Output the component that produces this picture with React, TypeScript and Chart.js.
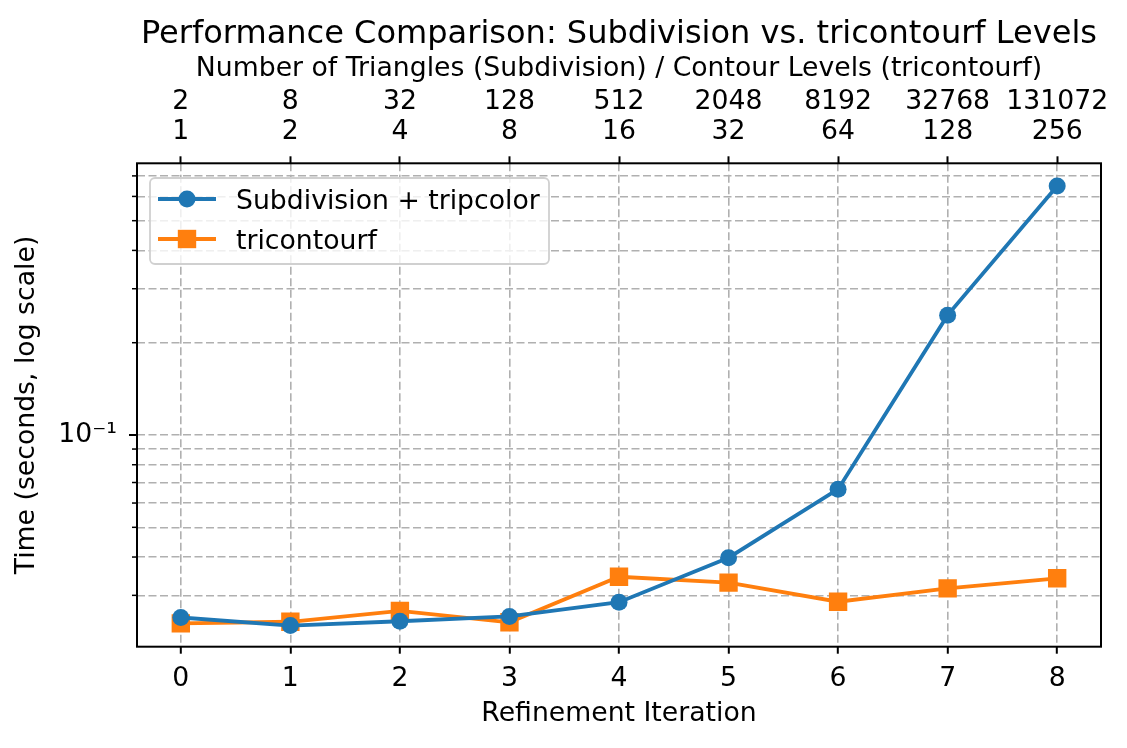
import React, { useEffect, useRef } from "react";
import { Chart, registerables } from "chart.js";

Chart.register(...registerables);

// ---- data ----
const iterations = [0, 1, 2, 3, 4, 5, 6, 7, 8];
const triangleCounts = ["2", "8", "32", "128", "512", "2048", "8192", "32768", "131072"];
const contourLevels = ["1", "2", "4", "8", "16", "32", "64", "128", "256"];
const subdivisionTimes = [0.0254, 0.0239, 0.0247, 0.0256, 0.0285, 0.0398, 0.0666, 0.246, 0.649];
const tricontourfTimes = [0.0243, 0.0246, 0.0267, 0.0245, 0.0345, 0.033, 0.0286, 0.0316, 0.0341];
const yGridValues = [0.03, 0.04, 0.05, 0.06, 0.07, 0.08, 0.09, 0.1, 0.2, 0.3, 0.4, 0.5, 0.6, 0.7];
const yMajorValues = [0.1];
const yMajorLabels = ["10⁻¹"];
const seriesNames = ["Subdivision + tripcolor", "tricontourf"];
const seriesColors = ["#1f77b4", "#ff7f0e"];
const chartTitle = "Performance Comparison: Subdivision vs. tricontourf Levels";
const topAxisTitle = "Number of Triangles (Subdivision) / Contour Levels (tricontourf)";
const bottomAxisTitle = "Refinement Iteration";
const yAxisTitle = "Time (seconds, log scale)";

const FONT = "'DejaVu Sans', 'Liberation Sans', sans-serif";
const FS = 26.7;
const GRID_COLOR = "#b0b0b0";
const DASH = [8, 3.5];

const isMajor = (v: number) => yMajorValues.some((m) => Math.abs(m - v) < 1e-9);

const decorPlugin = {
  id: "decor",
  afterDatasetsDraw(chart: any) {
    const ctx = chart.ctx as CanvasRenderingContext2D;
    const area = chart.chartArea;
    const yScale = chart.scales.y;
    ctx.save();
    // frame
    ctx.strokeStyle = "#000";
    ctx.lineWidth = 2;
    ctx.setLineDash([]);
    ctx.strokeRect(area.left, area.top, area.right - area.left, area.bottom - area.top);
    // y tick marks
    yGridValues.forEach((v) => {
      const py = yScale.getPixelForValue(v);
      const major = isMajor(v);
      ctx.lineWidth = major ? 2 : 1.5;
      ctx.beginPath();
      ctx.moveTo(area.left - (major ? 8 : 5), py);
      ctx.lineTo(area.left, py);
      ctx.stroke();
    });
    // title
    ctx.fillStyle = "#000";
    ctx.font = `${FS * 1.2}px ${FONT}`;
    ctx.textAlign = "center";
    ctx.textBaseline = "alphabetic";
    ctx.fillText(chartTitle, (area.left + area.right) / 2, 43);

    // legend
    const lx = 150, ly = 178, lw = 399, lh = 86, r = 5;
    ctx.beginPath();
    ctx.moveTo(lx + r, ly);
    ctx.lineTo(lx + lw - r, ly);
    ctx.arcTo(lx + lw, ly, lx + lw, ly + r, r);
    ctx.lineTo(lx + lw, ly + lh - r);
    ctx.arcTo(lx + lw, ly + lh, lx + lw - r, ly + lh, r);
    ctx.lineTo(lx + r, ly + lh);
    ctx.arcTo(lx, ly + lh, lx, ly + lh - r, r);
    ctx.lineTo(lx, ly + r);
    ctx.arcTo(lx, ly, lx + r, ly, r);
    ctx.closePath();
    ctx.fillStyle = "rgba(255,255,255,0.8)";
    ctx.fill();
    ctx.strokeStyle = "#d0d0d0";
    ctx.lineWidth = 1.8;
    ctx.stroke();

    chart.data.datasets.forEach((ds: any, i: number) => {
      const cy = 199 + i * 40;
      ctx.strokeStyle = ds.borderColor;
      ctx.lineWidth = ds.borderWidth;
      ctx.beginPath();
      ctx.moveTo(158, cy);
      ctx.lineTo(216, cy);
      ctx.stroke();
      ctx.fillStyle = ds.borderColor;
      if (ds.pointStyle === "rect") {
        const s = ds.pointRadius * Math.SQRT1_2;
        ctx.fillRect(187 - s, cy - s, 2 * s, 2 * s);
      } else {
        ctx.beginPath();
        ctx.arc(187, cy, ds.pointRadius, 0, Math.PI * 2);
        ctx.fill();
      }
      ctx.fillStyle = "#000";
      ctx.font = `${FS}px ${FONT}`;
      ctx.textAlign = "left";
      ctx.textBaseline = "alphabetic";
      ctx.fillText(ds.label, 236, cy + 9.7);
    });
    ctx.restore();
  },
};

export default function App() {
  const canvasRef = useRef<HTMLCanvasElement | null>(null);

  useEffect(() => {
    document.body.style.margin = "0";
    const canvas = canvasRef.current;
    if (!canvas) return;

    const xTicks = (scale: any) => {
      scale.ticks = iterations.map((v) => ({ value: v }));
    };

    const chart = new Chart(canvas, {
      type: "line",
      data: {
        datasets: [
          {
            label: seriesNames[0],
            data: iterations.map((x, i) => ({ x, y: subdivisionTimes[i] })),
            borderColor: seriesColors[0],
            backgroundColor: seriesColors[0],
            borderWidth: 3.8,
            pointStyle: "circle",
            pointRadius: 8.5,
            pointBorderWidth: 0,
            pointBackgroundColor: seriesColors[0],
            tension: 0,
          },
          {
            label: seriesNames[1],
            data: iterations.map((x, i) => ({ x, y: tricontourfTimes[i] })),
            borderColor: seriesColors[1],
            backgroundColor: seriesColors[1],
            borderWidth: 3.8,
            pointStyle: "rect",
            pointRadius: 13,
            pointBorderWidth: 0,
            pointBackgroundColor: seriesColors[1],
            tension: 0,
          },
        ],
      },
      options: {
        animation: false,
        responsive: true,
        maintainAspectRatio: false,
        devicePixelRatio: 1,
        layout: { padding: { top: 0, left: 0, right: 26, bottom: 0 } },
        plugins: {
          legend: { display: false },
          title: { display: false },
          tooltip: { enabled: false },
        },
        scales: {
          x: {
            type: "linear",
            position: "bottom",
            min: -0.4,
            max: 8.4,
            afterBuildTicks: xTicks,
            afterFit: (scale: any) => {
              scale.height = 101.3;
            },
            ticks: {
              autoSkip: false,
              maxRotation: 0,
              padding: 9,
              color: "#000",
              font: { family: FONT, size: FS },
              callback: (v: any) => String(v),
            },
            grid: {
              color: GRID_COLOR,
              lineWidth: 1.6,
              drawTicks: true,
              tickLength: 7,
              tickColor: "#000",
              tickWidth: 2,
              tickBorderDash: [],
            },
            border: { display: false, dash: DASH },
            title: {
              display: true,
              text: bottomAxisTitle,
              color: "#000",
              font: { family: FONT, size: FS },
              padding: { top: 0, bottom: 18 },
            },
          },
          x2: {
            type: "linear",
            position: "top",
            min: -0.4,
            max: 8.4,
            afterBuildTicks: xTicks,
            afterFit: (scale: any) => {
              scale.height = 163.3;
            },
            ticks: {
              autoSkip: false,
              maxRotation: 0,
              padding: 9.3,
              color: "#000",
              font: { family: FONT, size: FS, lineHeight: 1.124 },
              callback: (v: any, i: number) => [triangleCounts[i], contourLevels[i]],
            },
            grid: {
              drawOnChartArea: false,
              drawTicks: true,
              tickLength: 7,
              tickColor: "#000",
              tickWidth: 2,
              tickBorderDash: [],
            },
            border: { display: false },
            title: {
              display: true,
              text: topAxisTitle,
              color: "#000",
              font: { family: FONT, size: FS },
              padding: { top: 53.5, bottom: 0 },
            },
          },
          y: {
            type: "logarithmic",
            position: "left",
            min: 0.0204,
            max: 0.7694,
            afterBuildTicks: (scale: any) => {
              scale.ticks = yGridValues.map((v) => ({ value: v, major: isMajor(v) }));
            },
            afterFit: (scale: any) => {
              scale.width = 137;
            },
            ticks: {
              autoSkip: false,
              padding: 20,
              color: "#000",
              font: { family: FONT, size: FS },
              callback: (v: any) => {
                const idx = yMajorValues.findIndex((m) => Math.abs(m - Number(v)) < 1e-9);
                return idx >= 0 ? yMajorLabels[idx] : "";
              },
            },
            grid: {
              color: GRID_COLOR,
              lineWidth: 1.6,
              drawTicks: false,
            },
            border: { display: false, dash: DASH },
            title: {
              display: true,
              text: yAxisTitle,
              color: "#000",
              font: { family: FONT, size: FS },
              padding: { top: 11.5, bottom: 0 },
            },
          },
        },
      },
      plugins: [decorPlugin],
    } as any);

    return () => {
      chart.destroy();
    };
  }, []);

  return (
    <div style={{ position: "relative", width: 1127, height: 748, background: "#fff" }}>
      <canvas ref={canvasRef} />
    </div>
  );
}
